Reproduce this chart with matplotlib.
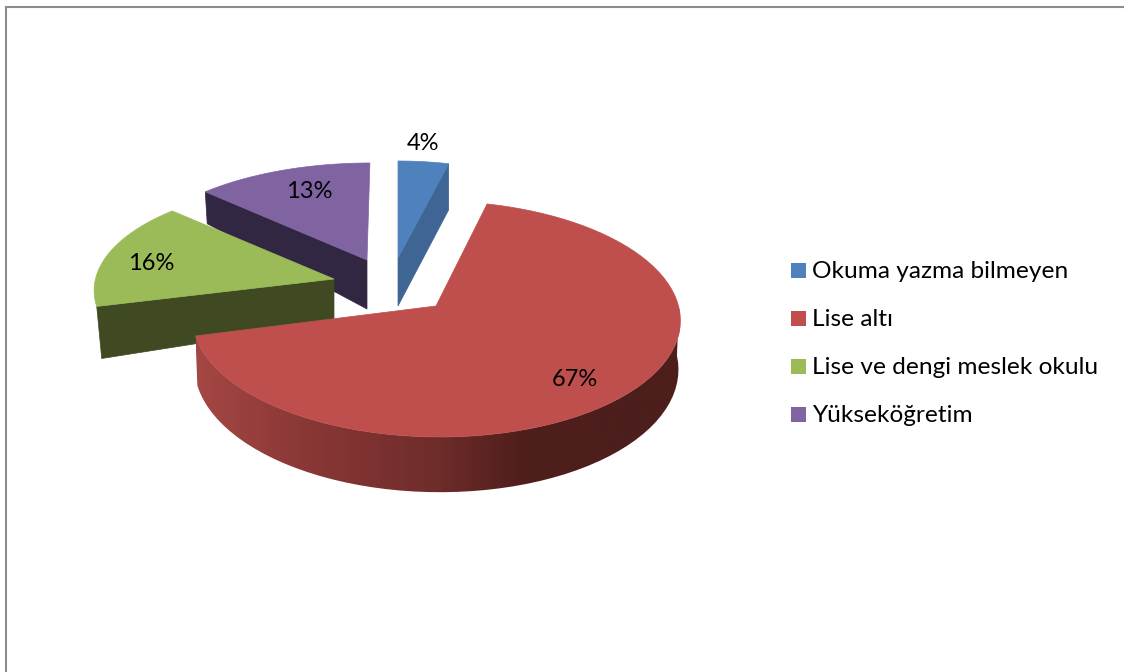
import matplotlib
matplotlib.use("Agg")
import matplotlib.pyplot as plt
import numpy as np
from matplotlib.colors import LinearSegmentedColormap
from matplotlib.patches import Polygon, Rectangle

plt.rcParams["font.family"] = ["Lato", "DejaVu Sans"]

categories = ["Okuma yazma bilmeyen", "Lise altı", "Lise ve dengi meslek okulu", "Yükseköğretim"]
values = [4, 67, 16, 13]
top_colors = ["#4F81BD", "#BE4F4C", "#9BBB59", "#8064A2"]
wall_colors = ["#3E6594", None, "#3F4A22", "#322742"]

# exploded 3d look, all in pixels: apex x/y, rim radii, how far the ellipse centre
# sits below the apex, wall height at apex, wall growth with y, x shear, wall taper
geom = {
    0: dict(ax=398, ay=258, rx=226, ry=108, off=11, h=48, s=0.02, shear=0.0, k=1.0),
    1: dict(ax=436, ay=306, rx=244, ry=118, off=13, h=48, s=0.055, shear=0.03, k=0.992),
    2: dict(ax=334, ay=279, rx=240, ry=108, off=12, h=43, s=0.33, shear=0.01, k=0.979),
    3: dict(ax=367, ay=260, rx=239, ry=106, off=9, h=49, s=0.25, shear=-0.03, k=0.988),
}
label_pos = [(423, 143), (575, 379), (151, 263), (309, 191)]
legend_y = [271, 319, 367, 415]
swatch_y = [270.5, 318.5, 366.5, 414.5]


def rim(g, theta):
    # where a ray from the apex hits the ellipse, theta clockwise from the top
    dx = np.sin(theta) * g["rx"]
    dy = -np.cos(theta) * g["ry"]
    a = (dx / g["rx"]) ** 2 + (dy / g["ry"]) ** 2
    b = -2 * dy * g["off"] / g["ry"] ** 2
    c = (g["off"] / g["ry"]) ** 2 - 1
    t = (-b + np.sqrt(b * b - 4 * a * c)) / (2 * a)
    x = g["ax"] + t * dx + g["shear"] * t * dy
    y = g["ay"] + t * dy
    return x, y


def lower(g, x, y):
    # same point at the bottom of the wall
    return g["ax"] + (x - g["ax"]) * g["k"], y + g["h"] + g["s"] * (y - g["ay"])


fig = plt.figure(figsize=(11.24, 6.72), dpi=100)
ax = fig.add_axes([0, 0, 1, 1])
ax.set_xlim(0, 1124)
ax.set_ylim(672, 0)
ax.axis("off")

# frame, only top and left show
ax.plot([5.5, 5.5, 1124], [672, 6.5, 6.5], color="#8C8C8C", lw=1.5, solid_joinstyle="miter")

edges = np.cumsum([0] + values) / sum(values) * 2 * np.pi
red_wall = LinearSegmentedColormap.from_list(
    "red_wall", [(0, "#A54744"), (0.22, "#8A3836"), (0.5, "#6E2C2A"), (0.68, "#4E1E1C"), (1, "#4C1E1C")]
)

# back slices first, the big one goes on top
for i in [3, 0, 2, 1]:
    g = geom[i]
    th = np.linspace(edges[i], edges[i + 1], 80)
    xs, ys = rim(g, th)
    if i == 1:
        # outer wall with left to right shading
        keep = th > np.pi / 2
        bx, by = lower(g, xs[keep], ys[keep])
        wall = Polygon(np.r_[np.c_[xs[keep], ys[keep]], np.c_[bx, by][::-1]], fc="none", ec="none")
        ax.add_patch(wall)
        im = ax.imshow(
            np.linspace(0, 1, 256).reshape(1, -1), cmap=red_wall, aspect="auto",
            extent=[196, 680, 500, 300], zorder=2,
        )
        im.set_clip_path(wall)
        ax.set_xlim(0, 1124)
        ax.set_ylim(672, 0)
    else:
        # flat wall along the cut side
        ex, ey = (xs[-1], ys[-1]) if i == 0 else (xs[0], ys[0])
        bx, by = lower(g, ex, ey)
        ax_b, ay_b = lower(g, g["ax"], g["ay"])
        ax.add_patch(Polygon([(ex, ey), (bx, by), (ax_b, ay_b), (g["ax"], g["ay"])],
                             fc=wall_colors[i], ec=wall_colors[i], lw=0.5, zorder=2))
    ax.add_patch(Polygon(np.r_[[[g["ax"], g["ay"]]], np.c_[xs, ys]],
                         fc=top_colors[i], ec=top_colors[i], lw=0.5, zorder=2))

for v, (x, y) in zip(values, label_pos):
    ax.text(x, y, f"{v}%", ha="center", va="center", fontsize=17, color="black", zorder=5)

for name, col, y, sy in zip(categories, top_colors, legend_y, swatch_y):
    ax.add_patch(Rectangle((791, sy - 7.5), 15, 15, fc=col, ec="none", zorder=5))
    ax.text(812, y, name, ha="left", va="center", fontsize=17.6, color="black", zorder=5)

fig.savefig("out.png", dpi=100)
